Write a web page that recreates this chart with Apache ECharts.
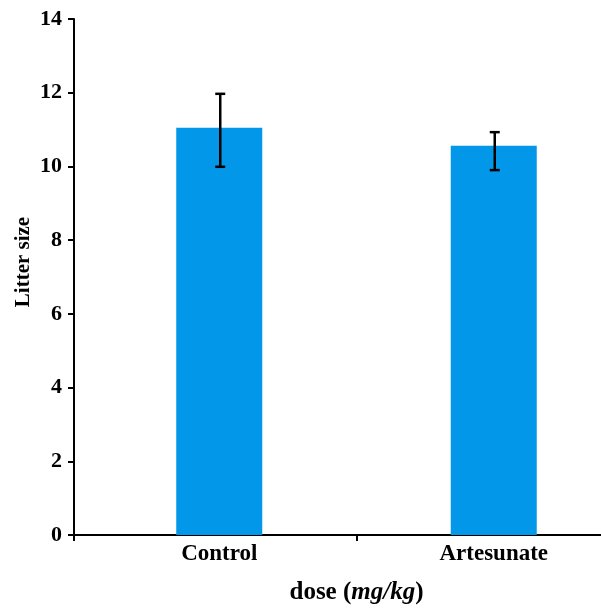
<!DOCTYPE html>
<html><head><meta charset="utf-8">
<script src="https://cdn.jsdelivr.net/npm/echarts@6/dist/echarts.min.js"></script>
<style>html,body{margin:0;padding:0;background:#fff}#c{width:601px;height:611px}</style>
</head><body><div id="c"></div>
<script>
const categories = ['Control', 'Artesunate'];
const values = [11.05, 10.56];
const errUpper = [11.97, 10.93];
const errLower = [9.99, 9.90];
const yMin = 0, yMax = 14, yStep = 2;

const FONT = '"Liberation Serif", "Times New Roman", serif';
const chart = echarts.init(document.getElementById('c'));
chart.setOption({
  animation: false,
  backgroundColor: '#ffffff',
  grid: [
    {left: 74, width: 557, top: 19, height: 516, outerBoundsMode: 'none', containLabel: false},
    {left: 82, width: 549, top: 19, height: 516, outerBoundsMode: 'none', containLabel: false}
  ],
  xAxis: [
    {gridIndex: 0, type: 'value', min: 0, max: 557 / 283, interval: 1,
     axisLine: {show: true, lineStyle: {color: '#000', width: 2}},
     axisTick: {show: true, length: 6, lineStyle: {color: '#000', width: 2}},
     axisLabel: {show: false}, splitLine: {show: false}},
    {gridIndex: 1, type: 'category', data: categories,
     axisLine: {show: false},
     axisTick: {show: false},
     axisLabel: {color: '#000', fontFamily: FONT, fontWeight: 'bold', fontSize: 23, margin: 8},
     name: '{a|dose (}{b|mg/kg}{a|)}', nameLocation: 'middle', nameGap: 45,
     nameTextStyle: {rich: {
       a: {fontFamily: FONT, fontWeight: 'bold', fontSize: 25, color: '#000'},
       b: {fontFamily: FONT, fontWeight: 'bold', fontStyle: 'italic', fontSize: 25, color: '#000'}
     }}}
  ],
  yAxis: [
    {gridIndex: 0, type: 'value', min: yMin, max: yMax, interval: yStep,
     axisLine: {show: true, lineStyle: {color: '#000', width: 2}},
     axisTick: {show: true, length: 6, lineStyle: {color: '#000', width: 2}},
     axisLabel: {color: '#000', fontFamily: FONT, fontWeight: 'bold', fontSize: 22, margin: 12},
     splitLine: {show: false},
     name: 'Litter size', nameLocation: 'middle', nameRotate: 90, nameGap: 40, nameMoveOverlap: false,
     nameTextStyle: {fontFamily: FONT, fontWeight: 'bold', fontSize: 21, color: '#000', padding: [0, 0, 0, 30]}},
    {gridIndex: 1, type: 'value', min: yMin, max: yMax, interval: yStep, show: false}
  ],
  series: [
    {type: 'bar', xAxisIndex: 1, yAxisIndex: 1, data: values, barWidth: 86,
     itemStyle: {color: '#0397EA'}},
    {type: 'custom', xAxisIndex: 1, yAxisIndex: 1,
     data: categories.map((c, i) => [i, errLower[i], errUpper[i]]),
     renderItem: function(params, api) {
       const lo = api.coord([api.value(0), api.value(1)]);
       const hi = api.coord([api.value(0), api.value(2)]);
       const x = lo[0] + 1, hw = 5;
       const st = {stroke: '#000', lineWidth: 2.5};
       return {type: 'group', children: [
         {type: 'line', shape: {x1: x, y1: hi[1], x2: x, y2: lo[1]}, style: st},
         {type: 'line', shape: {x1: x - hw, y1: hi[1], x2: x + hw, y2: hi[1]}, style: st},
         {type: 'line', shape: {x1: x - hw, y1: lo[1], x2: x + hw, y2: lo[1]}, style: st}
       ]};
     }, z: 5}
  ]
});
</script></body></html>
